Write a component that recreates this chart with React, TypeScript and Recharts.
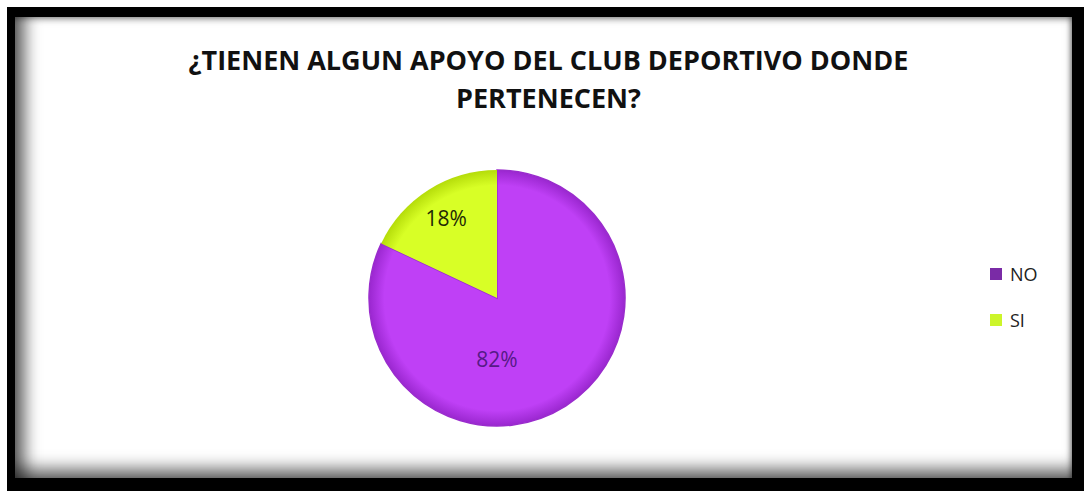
import { Cell, Legend, Pie, PieChart } from "recharts";

const categories = ["NO", "SI"];
const shares = [82, 18];
const sliceLabels = ["82%", "18%"];
const sliceLight = ["#bf40f6", "#d8ff26"];
const sliceDark = ["#9a27cf", "#b5dc0a"];
const sliceEdge = ["#9a2ccd", "none"];
const legendSwatch = ["#7a2ba6", "#ccf52a"];
const labelColors = ["#561a86", "#1f2a05"];
const titleLines = ["¿TIENEN ALGUN APOYO DEL CLUB DEPORTIVO DONDE", "PERTENECEN?"];

const data = categories.map((name, i) => ({ name, value: shares[i], label: sliceLabels[i] }));

const CHART_W = 1057;
const CHART_H = 461;
const PIE_CX = 477;
const PIE_CY = 276;
const PIE_R = 128;
const RAD = Math.PI / 180;

function renderLabel(props: any) {
  const { cx, cy, midAngle, outerRadius, percent, index } = props;
  const r = outerRadius * 0.74;
  // excel puts the big slice label straight below the centre
  const big = percent > 0.5;
  const x = big ? cx : cx + r * Math.cos(-midAngle * RAD);
  const y = big ? cy + outerRadius * 0.48 : cy + r * Math.sin(-midAngle * RAD);
  return (
    <text
      x={x}
      y={y}
      textAnchor="middle"
      dominantBaseline="central"
      fill={labelColors[index]}
      fontFamily="'Open Sans', sans-serif"
      fontSize={21}
    >
      {data[index].label}
    </text>
  );
}

function LegendBox() {
  return (
    <div style={{ fontFamily: "'Open Sans', sans-serif", fontSize: 18, color: "#222" }}>
      {categories.map((c, i) => (
        <div key={c} style={{ display: "flex", alignItems: "center", height: 26, marginBottom: 20 }}>
          <span style={{ width: 12, height: 12, background: legendSwatch[i], marginRight: 8 }} />
          <span>{c}</span>
        </div>
      ))}
    </div>
  );
}

export default function App() {
  return (
    <div style={{ position: "absolute", left: 0, top: 0, width: 1084, height: 491, background: "#fff" }}>
      <div style={{ position: "absolute", left: 7, top: 7, width: 1077, height: 484, background: "#000" }} />
      <div
        style={{
          position: "absolute",
          left: 15,
          top: 17,
          width: CHART_W,
          height: CHART_H,
          background: "#fff",
          boxShadow:
            "inset 18px 0 16px -8px rgba(0,0,0,0.6), inset 0 -18px 16px -8px rgba(0,0,0,0.55), inset 0 5px 6px -3px rgba(0,0,0,0.35), inset -4px 0 5px -2px rgba(0,0,0,0.4)",
        }}
      >
        <div
          style={{
            position: "absolute",
            left: 5,
            top: 24,
            width: CHART_W,
            textAlign: "center",
            fontFamily: "'Open Sans', sans-serif",
            fontWeight: 700,
            fontSize: 27,
            lineHeight: "38px",
            letterSpacing: 0,
            color: "#111",
          }}
        >
          {titleLines.map((t) => (
            <div key={t}>{t}</div>
          ))}
        </div>
        <PieChart width={CHART_W} height={CHART_H} style={{ position: "absolute", left: 0, top: 0 }}>
          <defs>
            {categories.map((c, i) => (
              <radialGradient
                key={c}
                id={`slice${i}`}
                gradientUnits="userSpaceOnUse"
                cx={PIE_CX + 5}
                cy={PIE_CY + 5}
                r={PIE_R}
              >
                <stop offset="0%" stopColor={sliceLight[i]} />
                <stop offset="88%" stopColor={sliceLight[i]} />
                <stop offset="100%" stopColor={sliceDark[i]} />
              </radialGradient>
            ))}
          </defs>
          <Pie
            data={data}
            dataKey="value"
            nameKey="name"
            cx={PIE_CX}
            cy={PIE_CY}
            outerRadius={PIE_R}
            startAngle={90}
            endAngle={-270}
            labelLine={false}
            label={renderLabel}
            isAnimationActive={false}
          >
            {data.map((d, i) => (
              <Cell key={d.name} fill={`url(#slice${i})`} stroke={sliceEdge[i]} strokeWidth={1.5} />
            ))}
          </Pie>
          <Legend
            content={() => <LegendBox />}
            wrapperStyle={{ position: "absolute", left: 975, top: 244, width: 80 }}
          />
        </PieChart>
      </div>
    </div>
  );
}
